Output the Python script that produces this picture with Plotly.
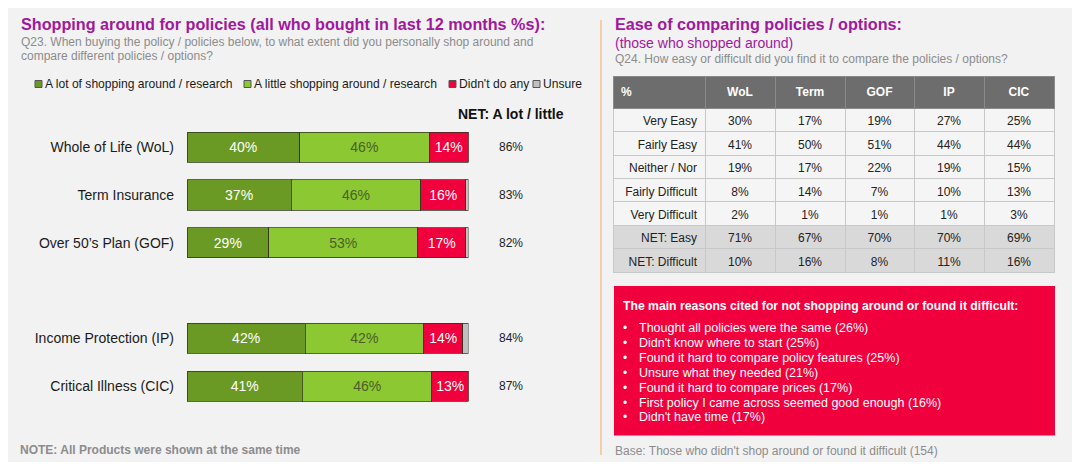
import plotly.graph_objects as go

W, H = 1080, 466
OFF = 8  # the page body keeps its default 8px margin, so shift everything back

# left panel: shopping around (all who bought in last 12 months, %)
products = ["Whole of Life (WoL)", "Term Insurance", "Over 50’s Plan (GOF)",
            "Income Protection (IP)", "Critical Illness (CIC)"]
product_pos = [0, 1, 2, 4, 5]  # empty slot between GOF and IP, as on the slide
a_lot = [40, 37, 29, 42, 41]
a_little = [46, 46, 53, 42, 46]
didnt_do_any = [14, 16, 17, 14, 13]
unsure = [0, 1, 1, 2, 0]
net_lot_little = [86, 83, 82, 84, 87]

series_names = ["A lot of shopping around / research", "A little shopping around / research",
                "Didn't do any", "Unsure"]
series_colors = ["#6b9a24", "#8cc832", "#f0003c", "#c0c0c0"]
label_colors = ["white", "#4d5e2c", "white", "white"]

# right panel: ease of comparing (those who shopped around)
ease_rows = ["Very Easy", "Fairly Easy", "Neither / Nor", "Fairly Difficult",
             "Very Difficult", "NET: Easy", "NET: Difficult"]
ease_cols = ["WoL", "Term", "GOF", "IP", "CIC"]
ease_wol = [30, 41, 19, 8, 2, 71, 10]
ease_term = [17, 50, 17, 14, 1, 67, 16]
ease_gof = [19, 51, 22, 7, 1, 70, 8]
ease_ip = [27, 44, 19, 10, 1, 70, 11]
ease_cic = [25, 44, 15, 13, 3, 69, 16]

reasons = ["Thought all policies were the same", "Didn't know where to start",
           "Found it hard to compare policy features", "Unsure what they needed",
           "Found it hard to compare prices", "First policy I came across seemed good enough",
           "Didn't have time"]
reason_pct = [26, 25, 25, 21, 17, 16, 17]

FONT = "Liberation Sans, Arial, sans-serif"
PURPLE = "#a0189e"
GREY = "#8c8c8c"


def px(x):
    return (x - OFF) / W


def py(y):
    return 1 - (y - OFF) / H


annotations = []


def txt(x, y, s, size, color, anchor="left", bold=False):
    annotations.append(dict(
        x=px(x), y=py(y), xref="paper", yref="paper", text=f"<b>{s}</b>" if bold else s,
        showarrow=False, xanchor=anchor, yanchor="middle",
        font=dict(family=FONT, size=size, color=color)))


fig = go.Figure()

segments = [a_lot, a_little, didnt_do_any, unsure]
for name, vals, col, tcol in zip(series_names, segments, series_colors, label_colors):
    fig.add_trace(go.Bar(
        orientation="h", x=vals, y=product_pos, name=name, width=0.63,
        marker=dict(color=col, line=dict(color="rgba(45,50,30,0.75)", width=1)),
        text=[f"{v}%" for v in vals], textposition="none" if name == "Unsure" else "inside",
        insidetextanchor="middle", textfont=dict(family=FONT, size=14, color=tcol),
        showlegend=False, hoverinfo="skip"))

# NET column next to the bars
for pos, v in zip(product_pos, net_lot_little):
    annotations.append(dict(x=px(511), y=pos, xref="paper", yref="y", text=f"{v}%",
                            showarrow=False, xanchor="center", yanchor="middle",
                            font=dict(family=FONT, size=12, color="#222222")))

cell_fill = ["#f5f5f5"] * 5 + ["#d9d9d9"] * 2
fig.add_trace(go.Table(
    domain=dict(x=[px(613), px(1055)], y=[py(274), py(76.7)]),
    columnwidth=[92, 70, 70, 69, 70, 70],
    header=dict(values=["<b>%</b>"] + [f"<b>{c}</b>" for c in ease_cols],
                fill_color="#6d6d6d", line=dict(color="#8a8a8a", width=1),
                font=dict(family=FONT, color="white", size=12),
                align=["left"] + ["center"] * 5, height=31.6),
    cells=dict(values=[ease_rows] + [[f"{v}%" for v in c] for c in
                                     (ease_wol, ease_term, ease_gof, ease_ip, ease_cic)],
               fill_color=[cell_fill] * 6, line=dict(color="#c8c8c8", width=1),
               font=dict(family=FONT, color="#222222", size=12),
               align=["right"] + ["center"] * 5, height=23.4)))

shapes = [
    dict(type="rect", xref="paper", yref="paper", x0=px(5), x1=px(1074), y0=py(462), y1=py(5),
         fillcolor="#f2f2f2", line=dict(width=0), layer="below"),
    dict(type="line", xref="paper", yref="paper", x0=px(601), x1=px(601), y0=py(455), y1=py(20),
         line=dict(color="#f5cda6", width=2)),
    dict(type="rect", xref="paper", yref="paper", x0=px(614), x1=px(1055), y0=py(435.5), y1=py(286),
         fillcolor="#f0003c", line=dict(width=0)),
]

# hand-made legend (tight spacing as on the slide)
legend_x = [35, 244, 449, 533]
for x0, name, col in zip(legend_x, series_names, series_colors):
    shapes.append(dict(type="rect", xref="paper", yref="paper", x0=px(x0), x1=px(x0 + 7),
                       y0=py(87.5), y1=py(80.5), fillcolor=col,
                       line=dict(color="#555555", width=1)))
    txt(x0 + 8, 84, name, 12.1, "#1a1a1a")

# left panel texts
txt(19, 24, "Shopping around for policies (all who bought in last 12 months %s):", 16.2, PURPLE, bold=True)
txt(19, 42, "Q23. When buying the policy / policies below, to what extent did you personally shop around and", 12, GREY)
txt(19, 55.5, "compare different policies / options?", 12, GREY)
txt(566, 114, "NET: A lot / little", 14, "#111111", anchor="right", bold=True)
txt(18, 450, "NOTE: All Products were shown at the same time", 12, GREY, bold=True)

# right panel texts
txt(613, 24.5, "Ease of comparing policies / options:", 16.2, PURPLE, bold=True)
txt(613, 43, "(those who shopped around)", 14, PURPLE)
txt(613, 59, "Q24. How easy or difficult did you find it to compare the policies / options?", 12, GREY)
txt(621, 306, "The main reasons cited for not shopping around or found it difficult:", 12.2, "white", bold=True)
for i, (r, p) in enumerate(zip(reasons, reason_pct)):
    y = 328.3 + i * 14.85
    txt(621, y, "•", 12, "white")
    txt(637, y, f"{r} ({p}%)", 12.5, "white")
txt(613, 451, "Base: Those who didn't shop around or found it difficult (154)", 12, GREY)

fig.update_layout(
    width=W, height=H, autosize=False, margin=dict(l=0, r=0, t=0, b=0),
    paper_bgcolor="white", plot_bgcolor="rgba(0,0,0,0)",
    barmode="stack", showlegend=False,
    uniformtext=dict(minsize=14, mode="show"),
    font=dict(family=FONT),
    xaxis=dict(domain=[px(187), px(468.5)], range=[0, 100], visible=False, fixedrange=True),
    yaxis=dict(domain=[py(410.1), py(123.3)], range=[5.5, -0.5], tickvals=product_pos,
               ticktext=products, showgrid=False, zeroline=False, showline=False, ticks="",
               tickfont=dict(family=FONT, size=14, color="#1a1a1a"), ticklabelstandoff=12,
               fixedrange=True),
    shapes=shapes, annotations=annotations,
)

fig.write_html("out.html")
